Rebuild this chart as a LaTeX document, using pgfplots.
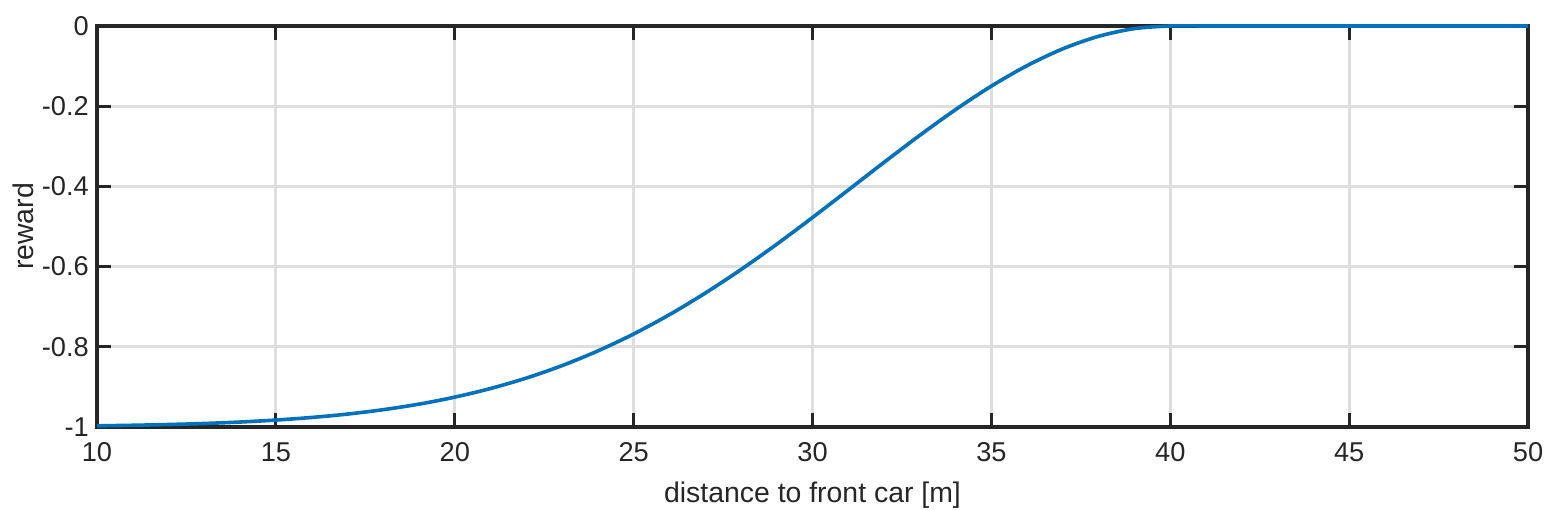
\documentclass[border=0pt]{standalone}
\usepackage{pgfplots}
\pgfplotsset{compat=1.18}
\usepackage{fontspec}
\setmainfont{Liberation Sans}
\definecolor{mblue}{RGB}{0,114,189}
\definecolor{axgray}{RGB}{38,38,38}
\definecolor{gridgray}{RGB}{222,222,222}
\begin{document}
\begin{tikzpicture}
\begin{axis}[
  scale only axis,
  width=715.5pt, height=200.5pt,
  xmin=10, xmax=50, ymin=-1, ymax=0,
  xtick={10,15,...,50},
  ytick={-1,-0.8,-0.6,-0.4,-0.2,0},
  yticklabels={-1,-0.8,-0.6,-0.4,-0.2,0},
  xticklabels={10,15,20,25,30,35,40,45,50},
  tick align=inside,
  tick pos=both,
  major tick length=7pt,
  every tick/.style={axgray, line width=1.6pt},
  axis line style={axgray, line width=1.6pt},
  grid=major,
  major grid style={gridgray, line width=1.4pt},
  font=\fontsize{13.6}{16}\selectfont,
  tick label style={font=\fontsize{13.6}{16}\selectfont, text=axgray},
  xticklabel shift=4.3pt,
  yticklabel style={xshift=-0.6pt},
  xlabel={distance to front car [m]},
  ylabel={reward},
  xlabel style={at={(axis description cs:0.5,-0.17)}, anchor=center, text=axgray, font=\fontsize{14.2}{17}\selectfont},
  ylabel style={at={(axis description cs:-0.0517,0.5)}, anchor=center, text=axgray, font=\fontsize{14.2}{17}\selectfont},
  clip=false,
]
\addplot[mblue, line width=1.8pt, smooth, tension=0.5] coordinates {
(10,-0.9971) (11,-0.9957) (12,-0.9938) (13,-0.9912) (14,-0.9876)
(15,-0.9827) (16,-0.9762) (17,-0.9678) (18,-0.9568) (19,-0.9430)
(20,-0.9255) (21,-0.9040) (22,-0.8780) (23,-0.8469) (24,-0.8103)
(25,-0.7680) (26,-0.7199) (27,-0.6662) (28,-0.6074) (29,-0.5442)
(30,-0.4776) (31,-0.4090) (32,-0.3400) (33,-0.2725) (34,-0.2085)
(35,-0.1498) (36,-0.0987) (37,-0.0568) (38,-0.0256) (39,-0.0065)
(40,0) (41,0) (42,0) (43,0) (44,0) (45,0) (46,0) (47,0) (48,0) (49,0) (50,0)
};
\coordinate (sw) at (rel axis cs:0,0);
\coordinate (ne) at (rel axis cs:1,1);
\end{axis}
\pgfresetboundingbox
\path ([shift={(-48.5pt,-41pt)}]sw) rectangle ([shift={(11.5pt,13pt)}]ne);
\end{tikzpicture}
\end{document}
